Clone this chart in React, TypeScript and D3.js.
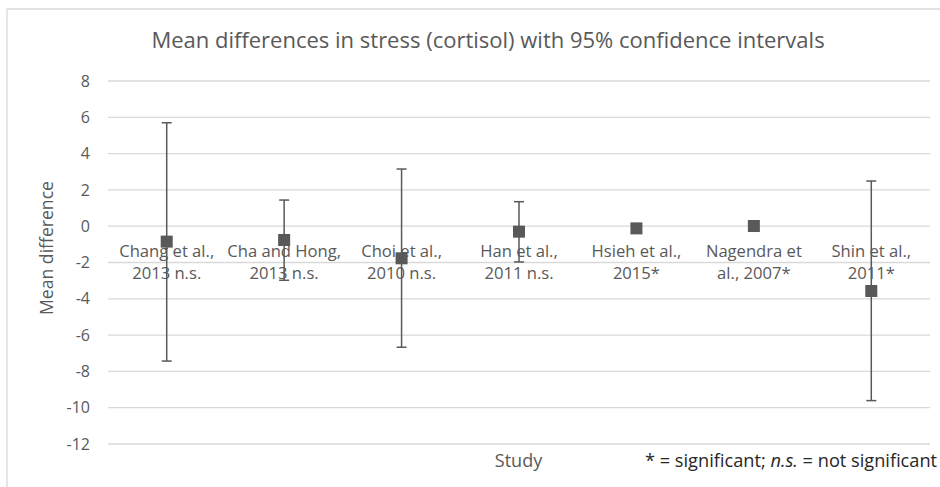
import React from "react";
import * as d3 from "d3";

const studies = [
  ["Chang et al.,", "2013 n.s."],
  ["Cha and Hong,", "2013 n.s."],
  ["Choi et al.,", "2010 n.s."],
  ["Han et al.,", "2011 n.s."],
  ["Hsieh et al.,", "2015*"],
  ["Nagendra et", "al., 2007*"],
  ["Shin et al.,", "2011*"],
];
const meanDiff = [-0.85, -0.76, -1.77, -0.3, -0.12, 0.01, -3.57];
const ciUpper = [5.7, 1.44, 3.15, 1.35, null, null, 2.49];
const ciLower = [-7.43, -2.98, -6.67, -1.97, null, null, -9.61];
const yTicks = [8, 6, 4, 2, 0, -2, -4, -6, -8, -10, -12];

const W = 940;
const H = 487;
const FONT = "'Open Sans', sans-serif";
const TEXT = "#595959";
const GRID = "#d9d9d9";
const MARK = "#595959";

export default function App() {
  const x = d3
    .scaleBand<number>()
    .domain(d3.range(studies.length))
    .range([108, 930])
    .paddingInner(0)
    .paddingOuter(0);
  const y = d3.scaleLinear().domain([-12, 8]).range([444, 81]);
  const cx = (i: number) => (x(i) as number) + x.bandwidth() / 2;
  const cap = 5;
  const sq = 12;

  return (
    <svg
      width={W}
      height={H}
      style={{ position: "absolute", left: 0, top: 0, background: "#fff" }}
      fontFamily={FONT}
    >
      <rect x={0} y={0} width={W} height={H} fill="#fff" />
      {/* chart area border */}
      <line x1={7} x2={W} y1={9} y2={9} stroke={GRID} strokeWidth={1.3} />
      <line x1={7} x2={7} y1={9} y2={H} stroke={GRID} strokeWidth={1.3} />

      <text x={488} y={48} textAnchor="middle" fontSize={22} fill={TEXT}>
        Mean differences in stress (cortisol) with 95% confidence intervals
      </text>

      {/* gridlines and y ticks */}
      {yTicks.map((t) => (
        <g key={t}>
          <line x1={108} x2={930} y1={y(t)} y2={y(t)} stroke={GRID} strokeWidth={1.3} />
          <text x={90} y={y(t)} dy="0.35em" textAnchor="end" fontSize={16} fill={TEXT}>
            {t}
          </text>
        </g>
      ))}

      <text
        transform={`translate(47,${248}) rotate(-90)`}
        textAnchor="middle"
        dy="0.35em"
        fontSize={17.6}
        fill={TEXT}
      >
        Mean difference
      </text>

      {/* category labels sit just below the zero line */}
      {studies.map((s, i) => (
        <text key={i} x={cx(i)} textAnchor="middle" fontSize={16.6} fill={TEXT}>
          <tspan x={cx(i)} y={y(0) + 30.5}>{s[0]}</tspan>
          <tspan x={cx(i)} y={y(0) + 52.5}>{s[1]}</tspan>
        </text>
      ))}

      {/* confidence intervals */}
      {studies.map((_, i) => {
        const hi = ciUpper[i];
        const lo = ciLower[i];
        if (hi == null || lo == null) return null;
        return (
          <g key={i} stroke={MARK} strokeWidth={1.5}>
            <line x1={cx(i)} x2={cx(i)} y1={y(hi)} y2={y(lo)} />
            <line x1={cx(i) - cap} x2={cx(i) + cap} y1={y(hi)} y2={y(hi)} />
            <line x1={cx(i) - cap} x2={cx(i) + cap} y1={y(lo)} y2={y(lo)} />
          </g>
        );
      })}

      {/* mean markers */}
      {meanDiff.map((v, i) => (
        <rect key={i} x={cx(i) - sq / 2} y={y(v) - sq / 2} width={sq} height={sq} fill={MARK} />
      ))}

      <text x={518.5} y={461} dy="0.35em" textAnchor="middle" fontSize={18} fill={TEXT}>
        Study
      </text>
      <text x={645} y={467} fontSize={18.2} fill="#262626">
        * = significant; <tspan fontStyle="italic">n.s.</tspan> = not significant
      </text>
    </svg>
  );
}
